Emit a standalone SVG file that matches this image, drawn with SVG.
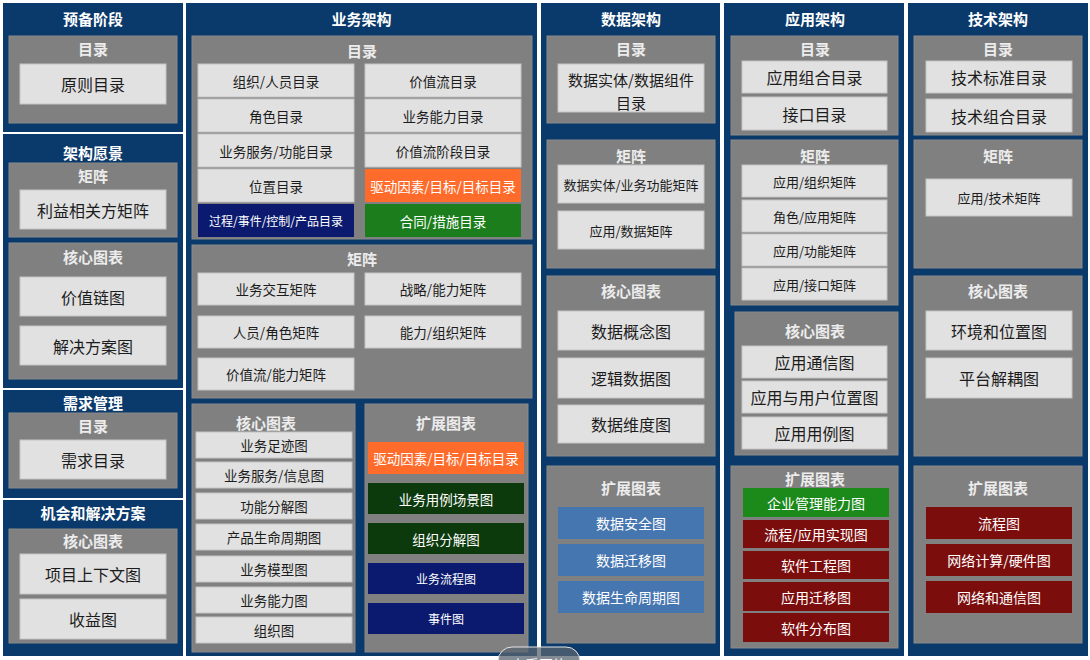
<svg xmlns="http://www.w3.org/2000/svg" width="1090" height="660" viewBox="0 0 1090 660">
<style>
text{font-family:"Noto Sans CJK SC","Noto Sans",sans-serif;text-anchor:middle;dominant-baseline:central}
.col{fill:#0a396b}
.pnl{fill:#808080;stroke:#8a8a8a;stroke-width:1}
.box{fill:#e1e1e1;stroke:#c4c4c4;stroke-width:1}
.tc{font-size:15px;font-weight:bold;fill:#ffffff}
.tp{font-size:15px;font-weight:bold;fill:#ececec}
.t{fill:#1c1c1c}
.w{fill:#ffffff}
.s16{font-size:16px}.s15{font-size:15px}.s14{font-size:14px}.s135{font-size:13.5px}.s13{font-size:13px}.s12{font-size:12px}
.orange{fill:#ff6b2a}.green{fill:#1b7d1b}.navy{fill:#0b1a6e}.dgreen{fill:#0c3a0c}.blue{fill:#4676b0}.agreen{fill:#1b8a1b}.red{fill:#7b0d0d}
</style>
<rect x="0" y="0" width="1090" height="660" fill="#ffffff"/>

<!-- Column 1 -->
<g id="prep">
<rect class="col" x="3" y="3" width="180" height="129"/>
<text class="tc" x="93" y="18">预备阶段</text>
<rect class="pnl" x="9" y="36" width="168" height="87"/>
<text class="tp" x="93" y="48">目录</text>
<rect class="box" x="20" y="64" width="146" height="40"/><text class="t s16" x="93" y="84">原则目录</text>
</g>
<g id="vision">
<rect class="col" x="3" y="134" width="180" height="254"/>
<text class="tc" x="93" y="152">架构愿景</text>
<rect class="pnl" x="9" y="163" width="168" height="74"/>
<text class="tp" x="93" y="175">矩阵</text>
<rect class="box" x="20" y="190" width="146" height="39"/><text class="t s16" x="93" y="209.5">利益相关方矩阵</text>
<rect class="pnl" x="9" y="243" width="168" height="136"/>
<text class="tp" x="93" y="256">核心图表</text>
<rect class="box" x="20" y="277" width="146" height="39"/><text class="t s16" x="93" y="296.5">价值链图</text>
<rect class="box" x="20" y="326" width="146" height="39"/><text class="t s16" x="93" y="345.5">解决方案图</text>
</g>
<g id="reqmgmt">
<rect class="col" x="3" y="390" width="180" height="108"/>
<text class="tc" x="93" y="402">需求管理</text>
<rect class="pnl" x="9" y="413" width="168" height="75"/>
<text class="tp" x="93" y="425">目录</text>
<rect class="box" x="20" y="440" width="146" height="39"/><text class="t s16" x="93" y="459.5">需求目录</text>
</g>
<g id="opportunities">
<rect class="col" x="3" y="500" width="180" height="156"/>
<text class="tc" x="93" y="512">机会和解决方案</text>
<rect class="pnl" x="9" y="529" width="168" height="114"/>
<text class="tp" x="93" y="540">核心图表</text>
<rect class="box" x="20" y="554" width="146" height="40"/><text class="t s16" x="93" y="574">项目上下文图</text>
<rect class="box" x="20" y="599" width="146" height="40"/><text class="t s16" x="93" y="619">收益图</text>
</g>

<!-- Column 2 -->
<g id="business">
<rect class="col" x="186" y="3" width="351" height="653"/>
<text class="tc" x="361.5" y="18">业务架构</text>
<rect class="pnl" x="192" y="36" width="340" height="203"/>
<text class="tp" x="362" y="50">目录</text>
<rect class="box" x="198" y="64" width="156" height="33"/><text class="t s135" x="276" y="80.5">组织/人员目录</text>
<rect class="box" x="198" y="99" width="156" height="33"/><text class="t s135" x="276" y="115.5">角色目录</text>
<rect class="box" x="198" y="134" width="156" height="33"/><text class="t s135" x="276" y="150.5">业务服务/功能目录</text>
<rect class="box" x="198" y="169" width="156" height="33"/><text class="t s135" x="276" y="185.5">位置目录</text>
<rect class="navy" x="198" y="204" width="156" height="33"/><text class="w s12" x="276" y="220.5">过程/事件/控制/产品目录</text>
<rect class="box" x="365" y="64" width="156" height="33"/><text class="t s135" x="443" y="80.5">价值流目录</text>
<rect class="box" x="365" y="99" width="156" height="33"/><text class="t s135" x="443" y="115.5">业务能力目录</text>
<rect class="box" x="365" y="134" width="156" height="33"/><text class="t s135" x="443" y="150.5">价值流阶段目录</text>
<rect class="orange" x="365" y="169" width="156" height="33"/><text class="w s135" x="443" y="185.5">驱动因素/目标/目标目录</text>
<rect class="green" x="365" y="204" width="156" height="33"/><text class="w s135" x="443" y="220.5">合同/措施目录</text>

<rect class="pnl" x="192" y="245" width="340" height="153"/>
<text class="tp" x="362" y="258">矩阵</text>
<rect class="box" x="198" y="273" width="156" height="32"/><text class="t s135" x="276" y="289">业务交互矩阵</text>
<rect class="box" x="198" y="316" width="156" height="32"/><text class="t s135" x="276" y="332">人员/角色矩阵</text>
<rect class="box" x="198" y="358" width="156" height="32"/><text class="t s135" x="276" y="374">价值流/能力矩阵</text>
<rect class="box" x="365" y="273" width="156" height="32"/><text class="t s135" x="443" y="289">战略/能力矩阵</text>
<rect class="box" x="365" y="316" width="156" height="32"/><text class="t s135" x="443" y="332">能力/组织矩阵</text>

<rect class="pnl" x="192" y="404" width="163" height="248"/>
<text class="tp" x="266" y="422">核心图表</text>
<rect class="box" x="196" y="432" width="156" height="26"/><text class="t s135" x="274" y="445">业务足迹图</text>
<rect class="box" x="196" y="462" width="156" height="26"/><text class="t s135" x="274" y="475">业务服务/信息图</text>
<rect class="box" x="196" y="493" width="156" height="26"/><text class="t s135" x="274" y="506">功能分解图</text>
<rect class="box" x="196" y="524" width="156" height="26"/><text class="t s135" x="274" y="537">产品生命周期图</text>
<rect class="box" x="196" y="556" width="156" height="26"/><text class="t s135" x="274" y="569">业务模型图</text>
<rect class="box" x="196" y="587" width="156" height="26"/><text class="t s135" x="274" y="600">业务能力图</text>
<rect class="box" x="196" y="617" width="156" height="26"/><text class="t s135" x="274" y="630">组织图</text>

<rect class="pnl" x="365" y="404" width="163" height="248"/>
<text class="tp" x="446" y="422">扩展图表</text>
<rect class="orange" x="368" y="442" width="156" height="32"/><text class="w s135" x="446" y="458">驱动因素/目标/目标目录</text>
<rect class="dgreen" x="368" y="483" width="156" height="31"/><text class="w s135" x="446" y="498.5">业务用例场景图</text>
<rect class="dgreen" x="368" y="523" width="156" height="31"/><text class="w s135" x="446" y="538.5">组织分解图</text>
<rect class="navy" x="368" y="563" width="156" height="31"/><text class="w s12" x="446" y="578.5">业务流程图</text>
<rect class="navy" x="368" y="603" width="156" height="31"/><text class="w s12" x="446" y="618.5">事件图</text>
</g>

<!-- Column 3 -->
<g id="data">
<rect class="col" x="541" y="3" width="179" height="653"/>
<text class="tc" x="631" y="18">数据架构</text>
<rect class="pnl" x="547" y="36" width="168" height="87"/>
<text class="tp" x="631" y="48">目录</text>
<rect class="box" x="558" y="64" width="146" height="48"/>
<text class="t s15" x="631" y="79">数据实体/数据组件</text>
<text class="t s15" x="631" y="102">目录</text>
<rect class="pnl" x="547" y="140" width="168" height="128"/>
<text class="tp" x="631" y="155">矩阵</text>
<rect class="box" x="558" y="165" width="146" height="38"/><text class="t s13" x="631" y="184">数据实体/业务功能矩阵</text>
<rect class="box" x="558" y="211" width="146" height="38"/><text class="t s13" x="631" y="230">应用/数据矩阵</text>
<rect class="pnl" x="547" y="276" width="168" height="180"/>
<text class="tp" x="631" y="290">核心图表</text>
<rect class="box" x="558" y="311" width="146" height="39"/><text class="t s16" x="631" y="330.5">数据概念图</text>
<rect class="box" x="558" y="358" width="146" height="40"/><text class="t s16" x="631" y="378">逻辑数据图</text>
<rect class="box" x="558" y="405" width="146" height="38"/><text class="t s16" x="631" y="424">数据维度图</text>
<rect class="pnl" x="547" y="466" width="168" height="177"/>
<text class="tp" x="631" y="487">扩展图表</text>
<rect class="blue" x="558" y="507" width="146" height="32"/><text class="w s14" x="631" y="523">数据安全图</text>
<rect class="blue" x="558" y="544" width="146" height="32"/><text class="w s14" x="631" y="560">数据迁移图</text>
<rect class="blue" x="558" y="581" width="146" height="32"/><text class="w s14" x="631" y="597">数据生命周期图</text>
</g>

<!-- Column 4 -->
<g id="application">
<rect class="col" x="724" y="3" width="180" height="653"/>
<text class="tc" x="815" y="18">应用架构</text>
<rect class="pnl" x="731" y="36" width="167" height="99"/>
<text class="tp" x="815" y="48">目录</text>
<rect class="box" x="742" y="61" width="145" height="32"/><text class="t s16" x="814.5" y="77">应用组合目录</text>
<rect class="box" x="742" y="97" width="145" height="33"/><text class="t s16" x="814.5" y="113.5">接口目录</text>
<rect class="pnl" x="731" y="140" width="167" height="165"/>
<text class="tp" x="815" y="155">矩阵</text>
<rect class="box" x="742" y="165" width="145" height="32"/><text class="t s13" x="814.5" y="181">应用/组织矩阵</text>
<rect class="box" x="742" y="200" width="145" height="32"/><text class="t s13" x="814.5" y="216">角色/应用矩阵</text>
<rect class="box" x="742" y="234" width="145" height="32"/><text class="t s13" x="814.5" y="250">应用/功能矩阵</text>
<rect class="box" x="742" y="268" width="145" height="32"/><text class="t s13" x="814.5" y="284">应用/接口矩阵</text>
<rect class="pnl" x="735" y="312" width="163" height="143"/>
<text class="tp" x="815" y="330">核心图表</text>
<rect class="box" x="742" y="346" width="145" height="32"/><text class="t s16" x="814.5" y="362">应用通信图</text>
<rect class="box" x="742" y="381" width="145" height="32"/><text class="t s16" x="814.5" y="397">应用与用户位置图</text>
<rect class="box" x="742" y="417" width="145" height="32"/><text class="t s16" x="814.5" y="433">应用用例图</text>
<rect class="pnl" x="731" y="466" width="167" height="182"/>
<text class="tp" x="815" y="478">扩展图表</text>
<rect class="agreen" x="743" y="488" width="146" height="29"/><text class="w s14" x="816" y="502.5">企业管理能力图</text>
<rect class="red" x="743" y="520" width="146" height="28"/><text class="w s14" x="816" y="534">流程/应用实现图</text>
<rect class="red" x="743" y="551" width="146" height="28"/><text class="w s14" x="816" y="565">软件工程图</text>
<rect class="red" x="743" y="582" width="146" height="29"/><text class="w s14" x="816" y="596.5">应用迁移图</text>
<rect class="red" x="743" y="613" width="146" height="29"/><text class="w s14" x="816" y="627.5">软件分布图</text>
</g>

<!-- Column 5 -->
<g id="technology">
<rect class="col" x="908" y="3" width="180" height="653"/>
<text class="tc" x="998" y="18">技术架构</text>
<rect class="pnl" x="914" y="36" width="168" height="99"/>
<text class="tp" x="998" y="48">目录</text>
<rect class="box" x="926" y="61" width="146" height="32"/><text class="t s16" x="999" y="77">技术标准目录</text>
<rect class="box" x="926" y="99" width="146" height="33"/><text class="t s16" x="999" y="115.5">技术组合目录</text>
<rect class="pnl" x="914" y="140" width="168" height="128"/>
<text class="tp" x="998" y="155">矩阵</text>
<rect class="box" x="926" y="179" width="146" height="37"/><text class="t s13" x="999" y="197.5">应用/技术矩阵</text>
<rect class="pnl" x="914" y="276" width="168" height="180"/>
<text class="tp" x="998" y="290">核心图表</text>
<rect class="box" x="926" y="311" width="146" height="39"/><text class="t s16" x="999" y="330.5">环境和位置图</text>
<rect class="box" x="926" y="358" width="146" height="40"/><text class="t s16" x="999" y="378">平台解耦图</text>
<rect class="pnl" x="914" y="466" width="168" height="177"/>
<text class="tp" x="998" y="487">扩展图表</text>
<rect class="red" x="926" y="507" width="146" height="32"/><text class="w s14" x="999" y="523">流程图</text>
<rect class="red" x="926" y="544" width="146" height="32"/><text class="w s14" x="999" y="560">网络计算/硬件图</text>
<rect class="red" x="926" y="581" width="146" height="32"/><text class="w s14" x="999" y="597">网络和通信图</text>
</g>

<g id="viewer-button">
<rect x="498" y="647" width="82" height="30" rx="14" fill="#5a6470" fill-opacity="0.75" stroke="#e6e6e6" stroke-width="1"/>
<text class="w s14" x="539" y="664">查看图片</text>
</g>
</svg>
